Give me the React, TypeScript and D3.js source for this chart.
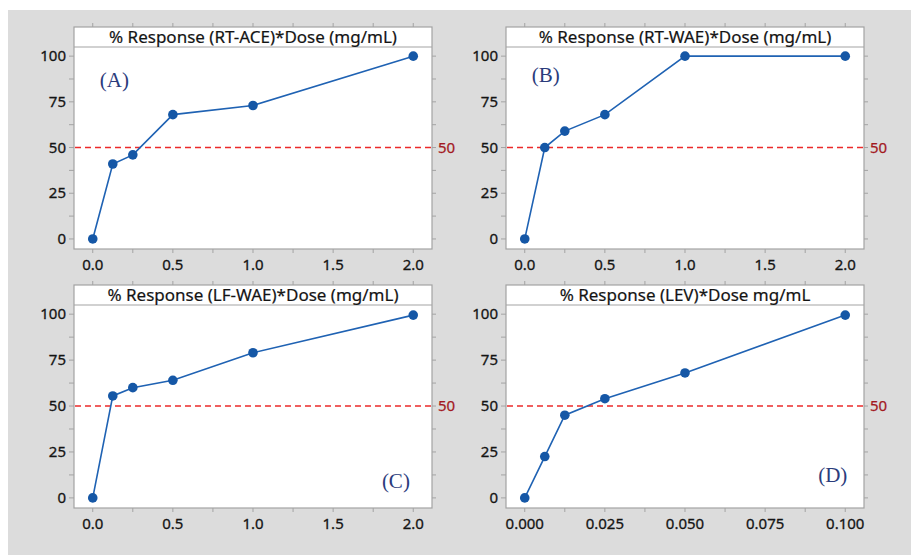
import React from "react";
import * as d3 from "d3";

// dose levels (mg/mL) for the extracts and for LEV
const doseExtract = [0, 0.125, 0.25, 0.5, 1, 2];
const doseLev = [0, 0.00625, 0.0125, 0.025, 0.05, 0.1];

// % response series
const respRtAce = [0, 41, 46, 68, 73, 100];
const respRtWae = [0, 50, 59, 68, 100, 100];
const respLfWae = [0, 55.5, 60, 64, 79, 99.5];
const respLev = [0, 22.5, 45, 54, 68, 99.5];

const titles = [
  "% Response (RT-ACE)*Dose (mg/mL)",
  "% Response (RT-WAE)*Dose (mg/mL)",
  "% Response (LF-WAE)*Dose (mg/mL)",
  "% Response (LEV)*Dose mg/mL",
];
const letters = ["(A)", "(B)", "(C)", "(D)"];

const xTicksExtract = [0, 0.5, 1, 1.5, 2];
const xTicksLev = [0, 0.025, 0.05, 0.075, 0.1];
const yTicks = [0, 25, 50, 75, 100];
const refValue = 50;

const W = 911;
const H = 555;

const colLeft = [74, 506];
const frameW = 358;
const rowTitleTop = [27, 285];
const titleH = 20;
const rowBottom = [249, 508];

const lineColor = "#1f62b3";
const frameColor = "#a3a3a3";
const font = "'Noto Sans', 'Open Sans', sans-serif";
const ink = "#141414";

type PanelProps = {
  x0: number;
  top: number;
  bottom: number;
  xs: number[];
  ys: number[];
  xTicks: number[];
  fmt: string;
  title: string;
  letter: string;
  letterPos: [number, number]; // fraction of plot width / height
};

const Panel = ({ x0, top, bottom, xs, ys, xTicks, fmt, title, letter, letterPos }: PanelProps) => {
  const plotTop = top + titleH;
  const right = x0 + frameW;
  const xMax = d3.max(xTicks) as number;
  const pad = xMax * 0.0585;
  const x = d3.scaleLinear().domain([-pad, xMax + pad]).range([x0, right]);
  const y = d3.scaleLinear().domain([-5.5, 105]).range([bottom, plotTop]);

  const step = xTicks[1] - xTicks[0];
  const xAll = d3.range(xTicks.length * 2 - 1).map((i) => (i * step) / 2);
  const yAll = d3.range(9).map((i) => i * 12.5);

  const line = d3
    .line<number>()
    .x((_, i) => x(xs[i]))
    .y((d) => y(d));

  const f = d3.format(fmt);
  const tl = 4;

  return (
    <g>
      <rect x={x0} y={top} width={frameW} height={bottom - top} fill="#fff" />
      {/* ticks */}
      {xAll.map((t, i) => (
        <g key={"xt" + i} stroke={frameColor} strokeWidth={1}>
          <line x1={x(t)} x2={x(t)} y1={bottom} y2={bottom + tl} />
          <line x1={x(t)} x2={x(t)} y1={top} y2={top - tl} />
        </g>
      ))}
      {yAll.map((t, i) => (
        <g key={"yt" + i} stroke={frameColor} strokeWidth={1}>
          <line x1={x0} x2={x0 - 5} y1={y(t)} y2={y(t)} />
          <line x1={right} x2={right + tl} y1={y(t)} y2={y(t)} />
        </g>
      ))}
      {xTicks.map((t, i) => (
        <text
          key={"xl" + i}
          x={x(t)}
          y={bottom + 21}
          textAnchor="middle"
          fontFamily={font}
          fontSize={15}
          fill={ink}
          stroke={ink}
          strokeWidth={0.3}
        >
          {f(t)}
        </text>
      ))}
      {yTicks.map((t, i) => (
        <text
          key={"yl" + i}
          x={x0 - 8}
          y={y(t) + 5}
          textAnchor="end"
          fontFamily={font}
          fontSize={15}
          fill={ink}
          stroke={ink}
          strokeWidth={0.3}
        >
          {t}
        </text>
      ))}
      {/* frame and title strip */}
      <rect x={x0} y={top} width={frameW} height={bottom - top} fill="none" stroke={frameColor} strokeWidth={1.2} />
      <line x1={x0} x2={right} y1={plotTop} y2={plotTop} stroke={frameColor} strokeWidth={1.2} />
      <text
        x={(x0 + right) / 2}
        y={top + 16}
        textAnchor="middle"
        fontFamily={font}
        fontSize={17}
        fill={ink}
        stroke={ink}
        strokeWidth={0.2}
      >
        {title}
      </text>
      {/* reference line */}
      <line
        x1={x0 + 1}
        x2={right - 1}
        y1={y(refValue)}
        y2={y(refValue)}
        stroke="#ec2a2a"
        strokeWidth={1.6}
        strokeDasharray="6,4"
      />
      <text
        x={right + 6}
        y={y(refValue) + 5}
        fontFamily={font}
        fontSize={15}
        fill="#a3191f"
        stroke="#a3191f"
        strokeWidth={0.25}
      >
        {refValue}
      </text>
      {/* series */}
      <path d={line(ys) || ""} fill="none" stroke={lineColor} strokeWidth={1.6} />
      {ys.map((v, i) => (
        <circle key={"p" + i} cx={x(xs[i])} cy={y(v)} r={4.8} fill="#1557a6" />
      ))}
      <text
        x={x0 + letterPos[0] * frameW}
        y={plotTop + letterPos[1] * (bottom - plotTop)}
        fontFamily="'Liberation Serif', 'DejaVu Serif', serif"
        fontSize={21}
        fill="#2b3c7c"
      >
        {letter}
      </text>
    </g>
  );
};

export default function App() {
  const panels = [
    { xs: doseExtract, ys: respRtAce, xTicks: xTicksExtract, fmt: ".1f", letterPos: [0.072, 0.2] },
    { xs: doseExtract, ys: respRtWae, xTicks: xTicksExtract, fmt: ".1f", letterPos: [0.072, 0.175] },
    { xs: doseExtract, ys: respLfWae, xTicks: xTicksExtract, fmt: ".1f", letterPos: [0.86, 0.9] },
    { xs: doseLev, ys: respLev, xTicks: xTicksLev, fmt: ".3f", letterPos: [0.872, 0.87] },
  ];
  return (
    <svg width={W} height={H} style={{ position: "absolute", left: 0, top: 0 }}>
      <rect x={0} y={0} width={W} height={H} fill="#fff" />
      <rect x={8} y={10} width={W - 8} height={H - 10} fill="#dcdcdc" />
      {panels.map((p, i) => (
        <Panel
          key={i}
          x0={colLeft[i % 2]}
          top={rowTitleTop[Math.floor(i / 2)]}
          bottom={rowBottom[Math.floor(i / 2)]}
          xs={p.xs}
          ys={p.ys}
          xTicks={p.xTicks}
          fmt={p.fmt}
          title={titles[i]}
          letter={letters[i]}
          letterPos={p.letterPos as [number, number]}
        />
      ))}
    </svg>
  );
}
